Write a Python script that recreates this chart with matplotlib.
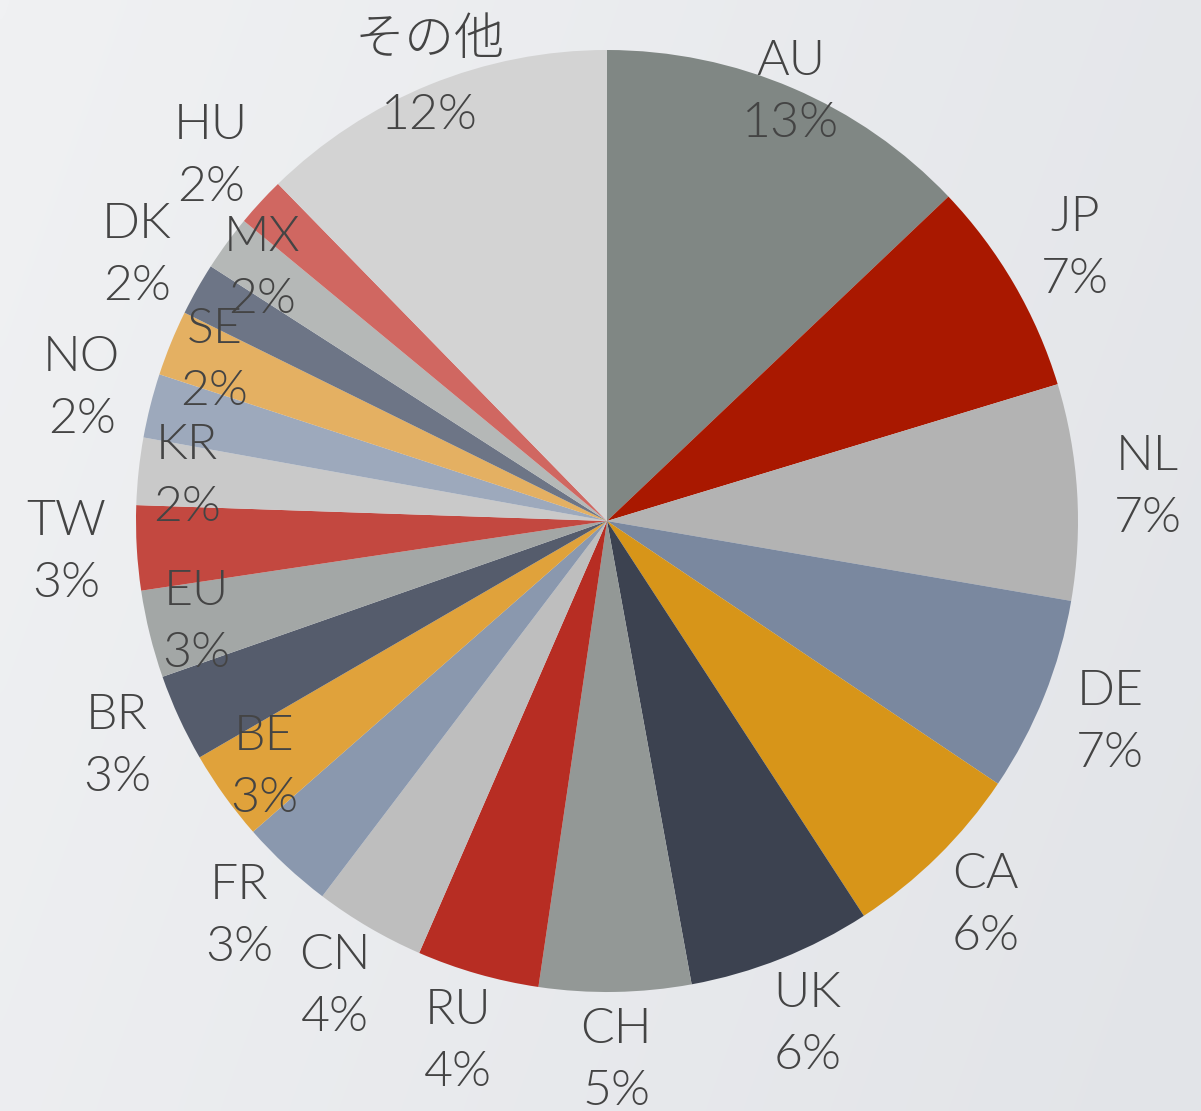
import numpy as np
import matplotlib
matplotlib.use("Agg")
import matplotlib.pyplot as plt
from matplotlib.colors import LinearSegmentedColormap

# ---- data ----
countries = ["AU", "JP", "NL", "DE", "CA", "UK", "CH", "RU", "CN", "FR", "BE",
             "BR", "EU", "TW", "KR", "NO", "SE", "DK", "MX", "HU", "その他"]
shares = [12.9, 7.4, 7.4, 6.7, 6.4, 6.3, 5.2, 4.2, 3.8, 3.2, 3.1,
          3.0, 3.0, 2.9, 2.3, 2.2, 2.25, 1.8, 1.9, 1.7, 12.3]
colors = ["#808784", "#A91800", "#B3B3B3", "#7A889F", "#D79519", "#3C4250",
          "#939896", "#B72D23", "#BEBEBE", "#8A98AE", "#E0A23B", "#555C6C",
          "#A3A7A6", "#C34840", "#C9C9C9", "#9DA9BC", "#E4B062", "#6D7586",
          "#B5B8B7", "#D06761", "#D3D3D3"]
# label radius as fraction of pie radius (layout)
label_r = [0.99, 1.15, 1.15, 1.15, 1.145, 1.15, 1.145, 1.15, 1.145, 1.147, 0.897,
           1.145, 0.898, 1.15, 0.896, 1.15, 0.90, 1.147, 0.907, 1.142, 1.0]

W, H = 1201, 1111
fig = plt.figure(figsize=(W / 100, H / 100), dpi=100)
ax = fig.add_axes([0, 0, 1, 1])
ax.set_xlim(0, W)
ax.set_ylim(0, H)
ax.axis("off")

# background gradient
cmap = LinearSegmentedColormap.from_list("bg", ["#F0F1F3", "#E2E4E8"])
gx, gy = np.meshgrid(np.linspace(0, 1, 200), np.linspace(0, 1, 200))
grad = 0.75 * gx + 0.25 * gy
ax.imshow(grad, cmap=cmap, extent=[0, W, 0, H], origin="upper",
          aspect="auto", zorder=0, interpolation="bicubic")

cx, cy, R = 607, H - 521, 471
wedges, _ = ax.pie(shares, colors=colors, startangle=90, counterclock=False,
                   center=(cx, cy), radius=R, frame=True,
                   wedgeprops=dict(linewidth=0, edgecolor="none"))
for w in wedges:
    w.set_zorder(2)
ax.set_xlim(0, W)
ax.set_ylim(0, H)
ax.axis("off")

font = ["Lato", "Noto Sans CJK JP", "DejaVu Sans"]
tcolor = "#444444"
total = sum(shares)
cum = 0.0
for name, v, rf in zip(countries, shares, label_r):
    mid = 90 - 360 * (cum + v / 2) / total
    cum += v
    th = np.deg2rad(mid)
    x = cx + rf * R * np.cos(th)
    y = cy + rf * R * np.sin(th)
    pct = f"{round(100 * v / total):d}%"
    up = 31 if name != "その他" else 45
    ax.text(x, y + up, name, ha="center", va="center", fontsize=36,
            family=font, fontweight=300, color=tcolor, zorder=5)
    ax.text(x, y - 31, pct, ha="center", va="center", fontsize=36,
            family=font, fontweight=300, color=tcolor, zorder=5)

fig.savefig("out.png", dpi=100)
